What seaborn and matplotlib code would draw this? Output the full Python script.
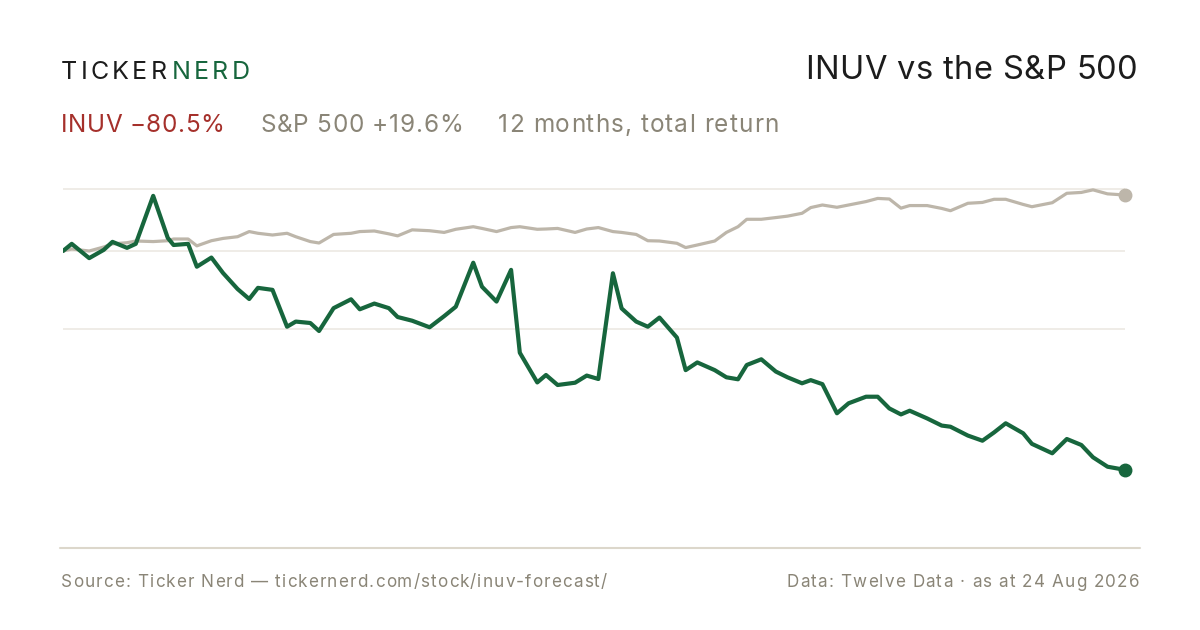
import numpy as np
import pandas as pd
import matplotlib as mpl
mpl.use('Agg')
import matplotlib.pyplot as plt
from matplotlib.lines import Line2D
import seaborn as sns

# days since start of the 12 month window
days = [0, 3, 9, 14, 17, 22, 25, 31, 36, 38, 43, 46, 51, 55, 60, 64, 67, 72, 77, 80,
        85, 88, 93, 99, 102, 107, 112, 115, 120, 126, 131, 135, 141, 144, 149, 154, 157,
        163, 166, 170, 176, 180, 184, 189, 192, 197, 201, 205, 211, 214, 218, 224, 228,
        232, 235, 240, 245, 249, 254, 257, 261, 266, 270, 276, 280, 284, 288, 291, 297,
        302, 305, 311, 316, 320, 324, 330, 333, 340, 345, 350, 354, 359, 365]

# indexed to 100 at start
inuv = [100, 102.5, 97.5, 100.4, 103.2, 101.1, 102.5, 119.3, 104.6, 102.1, 102.5, 94.5,
        97.7, 92.3, 86.7, 83.2, 87.1, 86.4, 73.5, 75.3, 74.8, 72.0, 80.0, 83.1, 79.6,
        81.6, 80.0, 76.9, 75.6, 73.3, 77.2, 80.5, 95.9, 87.5, 82.3, 93.4, 64.4, 54.0,
        56.6, 53.1, 53.9, 56.4, 55.2, 92.2, 79.9, 75.3, 73.5, 76.7, 69.7, 58.3, 61.0,
        58.3, 55.8, 55.1, 60.1, 62.1, 57.8, 55.8, 53.7, 54.8, 53.4, 43.2, 46.7, 49.0,
        49.0, 44.9, 42.8, 44.1, 41.4, 38.9, 38.5, 35.4, 33.6, 36.5, 39.7, 36.2, 32.5,
        29.2, 34.2, 32.1, 27.8, 24.5, 23.4]

spx = [100, 100.7, 100, 101.4, 102.5, 102.9, 103.5, 103.3, 103.6, 104.2, 104.2, 101.8,
       103.6, 104.4, 105.0, 106.8, 106.2, 105.6, 106.2, 105.0, 103.3, 102.8, 105.8, 106.2,
       106.8, 107.0, 106.0, 105.3, 107.4, 107.1, 106.5, 107.6, 108.5, 107.9, 106.8, 108.2,
       108.5, 107.6, 107.7, 107.9, 106.5, 107.7, 108.2, 106.8, 106.5, 105.8, 103.6, 103.5,
       102.7, 101.2, 102.1, 103.5, 106.5, 108.5, 111.1, 111.1, 111.7, 112.2, 113.2, 115.2,
       116.1, 115.3, 116.1, 117.3, 118.4, 118.2, 115.0, 115.9, 115.9, 114.9, 114.1, 116.7,
       117.0, 118.1, 118.1, 116.3, 115.5, 116.9, 120.2, 120.5, 121.4, 120.0, 119.6]

grid_levels = [121.7, 100, 72.7]

GREEN = '#17663d'
SAND = '#bdb6aa'
RED = '#a5302b'
GREY = '#8a8577'
INK = '#1c1c1c'

sns.set_theme(style='white')
plt.rcParams['font.family'] = ['Inter', 'DejaVu Sans']

df = pd.DataFrame({'day': days, 'INUV': inuv, 'S&P 500': spx})

fig = plt.figure(figsize=(12, 6.3), dpi=100)
fig.patch.set_facecolor('white')
ax = fig.add_axes([63 / 1200, 82 / 630, 1062 / 1200, 378 / 630])

for lvl in grid_levels:
    ax.axhline(lvl, color='#ebe7e0', lw=1.1, zorder=0)

sns.lineplot(data=df, x='day', y='S&P 500', ax=ax, color=SAND, lw=2.3, zorder=2)
sns.lineplot(data=df, x='day', y='INUV', ax=ax, color=GREEN, lw=3.0, zorder=3)
ax.plot(days[-1], spx[-1], 'o', color=SAND, ms=9, clip_on=False, zorder=4)
ax.plot(days[-1], inuv[-1], 'o', color=GREEN, ms=9, clip_on=False, zorder=4)

ax.set_xlim(0, 365)
ax.set_ylim(-3.95, 128.35)
ax.set_xlabel('')
ax.set_ylabel('')
ax.set_xticks([])
ax.set_yticks([])
sns.despine(ax=ax, left=True, bottom=True)

fig.add_artist(Line2D([60 / 1200, 1140 / 1200], [82 / 630, 82 / 630],
                      color='#dcd7cb', lw=1.5))

renderer = fig.canvas.get_renderer()


def char_w(ch, size):
    t = fig.text(0, 0, ch, fontsize=size)
    w = t.get_window_extent(renderer=renderer).width
    t.remove()
    return w


def spaced(x, y, s, color, size, track, ha='left'):
    # text drawn letter by letter with extra spacing (px)
    widths = [char_w(ch, size) for ch in s]
    if ha == 'right':
        x -= sum(widths) + track * (len(s) - 1)
    for ch, w in zip(s, widths):
        fig.text(x / 1200, 1 - y / 630, ch, color=color, fontsize=size,
                 ha='left', va='baseline')
        x += w + track
    return x


xe = spaced(61, 79, 'TICKER', INK, 18, 3.2)
spaced(xe + 2, 79, 'NERD', GREEN, 18, 3.2)

spaced(1138, 79, 'INUV vs the S&P 500', INK, 23.5, 0.45, ha='right')

spaced(61, 132, 'INUV \u221280.5%', RED, 17.5, 0.4)
spaced(260, 132, 'S&P 500 +19.6%', GREY, 17.5, 0.75)
spaced(498, 132, '12 months, total return', GREY, 17.5, 1.05)

spaced(61, 587, 'Source: Ticker Nerd \u2014 tickernerd.com/stock/inuv-forecast/',
       GREY, 12.3, 1.1)
spaced(1139, 587, 'Data: Twelve Data \u00b7 as at 24 Aug 2026', GREY, 12.3, 1.15,
       ha='right')

fig.savefig('out.png', dpi=100, facecolor='white')
